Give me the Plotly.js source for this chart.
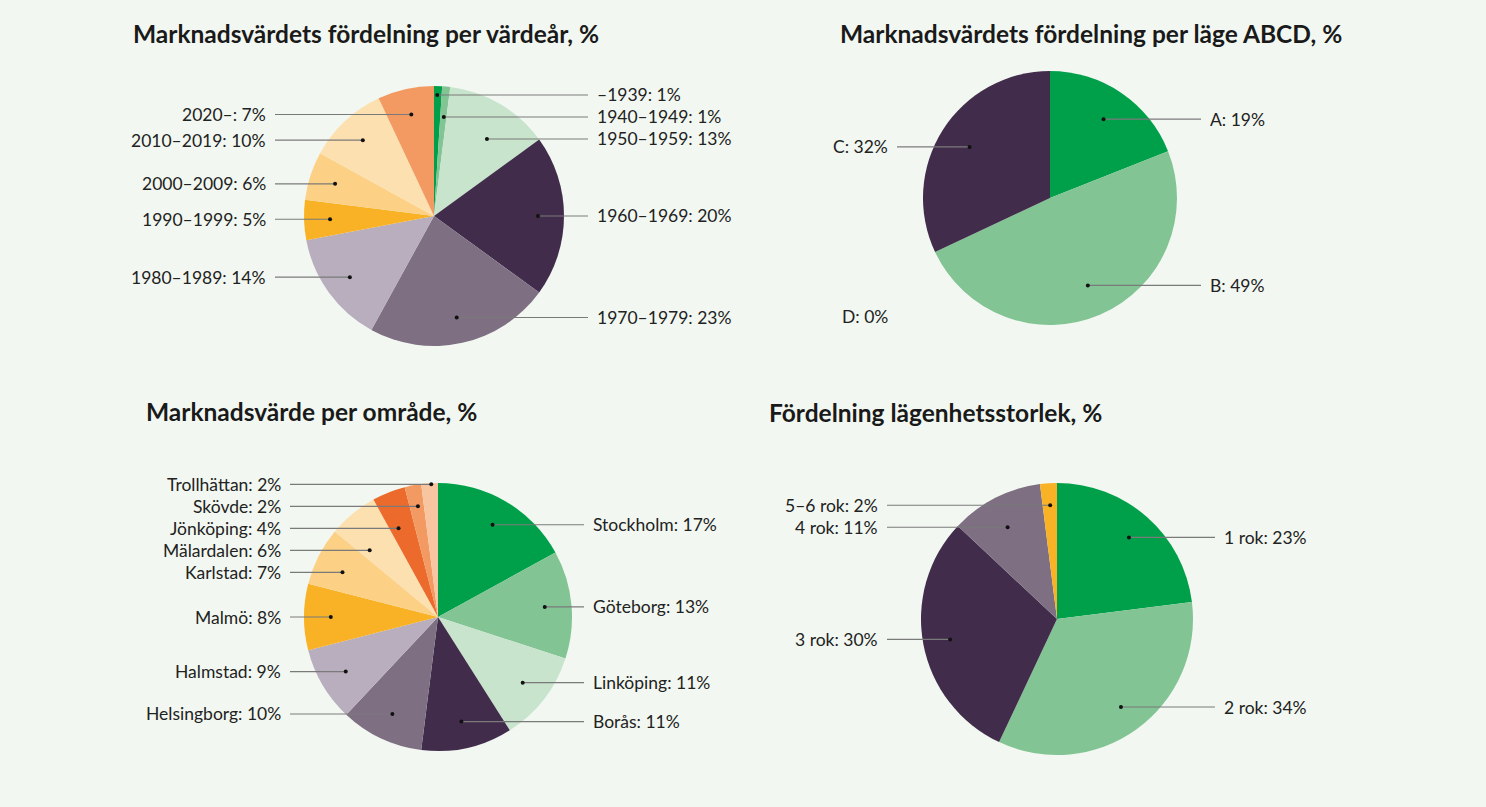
<!DOCTYPE html>
<html>
<head>
<meta charset="utf-8">
<script src="https://cdn.plot.ly/plotly-3.0.1.min.js"></script>
<style>
html,body{margin:0;padding:0;background:#f2f8f1;}
#chart{width:1486px;height:807px;}
</style>
</head>
<body>
<div id="chart"></div>
<script>
// ---------- Data ----------
const yearLabels = ['–1939', '1940–1949', '1950–1959', '1960–1969', '1970–1979', '1980–1989', '1990–1999', '2000–2009', '2010–2019', '2020–'];
const yearValues = [1, 1, 13, 20, 23, 14, 5, 6, 10, 7];

const abcdLabels = ['A', 'B', 'C', 'D'];
const abcdValues = [19, 49, 32, 0];

const areaLabels = ['Stockholm', 'Göteborg', 'Linköping', 'Borås', 'Helsingborg', 'Halmstad', 'Malmö', 'Karlstad', 'Mälardalen', 'Jönköping', 'Skövde', 'Trollhättan'];
const areaValues = [17, 13, 11, 11, 10, 9, 8, 7, 6, 4, 2, 2];

const sizeLabels = ['1 rok', '2 rok', '3 rok', '4 rok', '5–6 rok'];
const sizeValues = [23, 34, 30, 11, 2];

const chartTitles = [
  'Marknadsvärdets fördelning per värdeår, %',
  'Marknadsvärdets fördelning per läge ABCD, %',
  'Marknadsvärde per område, %',
  'Fördelning lägenhetsstorlek, %'
];

// ---------- Styles ----------
const C = {
  g1: '#00a04b', g2: '#82c494', g3: '#c8e4cc',
  p1: '#412d4b', p2: '#7e6f82', p3: '#b9aebd',
  o1: '#f9b225', o2: '#fdd185', o3: '#fde0b0', o4: '#f39a62', o5: '#ec6a2c', o6: '#f9c4a0'
};
const yearColors = [C.g1, C.g2, C.g3, C.p1, C.p2, C.p3, C.o1, C.o2, C.o3, C.o4];
const abcdColors = [C.g1, C.g2, C.p1, '#cccccc'];
const areaColors = [C.g1, C.g2, C.g3, C.p1, C.p2, C.p3, C.o1, C.o2, C.o3, C.o5, C.o4, C.o6];
const sizeColors = [C.g1, C.g2, C.p1, C.p2, C.o1];

const W = 1486, H = 807;
const FONT = 'Lato, "Open Sans", sans-serif';
const TXT = '#222222';

const charts = [
  {title: chartTitles[0], tx: 131, ty: 33, cx: 434, cy: 216, r: 130, labels: yearLabels, values: yearValues, colors: yearColors, f: 0.8, offR: 24, offL: 29},
  {title: chartTitles[1], tx: 838, ty: 33, cx: 1050, cy: 198, r: 127, labels: abcdLabels, values: abcdValues, colors: abcdColors, f: 0.75, offR: 24, offL: 26},
  {title: chartTitles[2], tx: 144, ty: 411, cx: 438, cy: 617, r: 134, labels: areaLabels, values: areaValues, colors: areaColors, f: 0.8, offR: 12, offL: 14},
  {title: chartTitles[3], tx: 767, ty: 413, cx: 1057, cy: 619, r: 136, labels: sizeLabels, values: sizeValues, colors: sizeColors, f: 0.8, offR: 22, offL: 34}
];

const px = x => x / W;
const py = y => 1 - y / H;

const traces = [];
const shapes = [];
const annotations = [];

function spread(list, gap) {
  list.sort((a, b) => a.py - b.py);
  let clusters = list.map(it => ({items: [it], center: it.py}));
  let changed = true;
  while (changed) {
    changed = false;
    for (let k = 0; k < clusters.length - 1; k++) {
      const a = clusters[k], b = clusters[k + 1];
      const aEnd = a.center + (a.items.length - 1) * gap / 2;
      const bStart = b.center - (b.items.length - 1) * gap / 2;
      if (bStart - aEnd < gap) {
        const items = a.items.concat(b.items);
        const center = items.reduce((s, it) => s + it.py, 0) / items.length;
        clusters.splice(k, 2, {items, center});
        changed = true;
        break;
      }
    }
  }
  clusters.forEach(c => {
    c.items.forEach((it, j) => {
      it.ly = c.center + (j - (c.items.length - 1) / 2) * gap;
    });
  });
}

charts.forEach(cfg => {
  traces.push({
    type: 'pie',
    labels: cfg.labels,
    values: cfg.values,
    sort: false,
    direction: 'clockwise',
    rotation: 0,
    textinfo: 'none',
    hoverinfo: 'none',
    showlegend: false,
    marker: {colors: cfg.colors, line: {width: 0}},
    domain: {
      x: [px(cfg.cx - cfg.r), px(cfg.cx + cfg.r)],
      y: [py(cfg.cy + cfg.r), py(cfg.cy - cfg.r)]
    }
  });

  annotations.push({
    xref: 'paper', yref: 'paper', x: px(cfg.tx), y: py(cfg.ty),
    xanchor: 'left', yanchor: 'middle', showarrow: false,
    text: '<b>' + cfg.title + '</b>',
    font: {family: FONT, size: 24.5, color: '#1a1a1a'}
  });

  const total = cfg.values.reduce((s, v) => s + v, 0);
  let cum = 0;
  const left = [], right = [], zeros = [];
  cfg.values.forEach((v, i) => {
    const mid = (cum + v / 2) / total * 2 * Math.PI;
    cum += v;
    const dx = Math.sin(mid) * cfg.r * cfg.f;
    const dy = -Math.cos(mid) * cfg.r * cfg.f;
    const item = {text: cfg.labels[i] + ': ' + v + '%', px: cfg.cx + dx, py: cfg.cy + dy};
    if (v === 0) zeros.push(item);
    else if (dx >= 0) right.push(item);
    else left.push(item);
  });
  spread(right, 22);
  spread(left, 22);

  const rightX = cfg.cx + cfg.r + cfg.offR;
  const leftX = cfg.cx - cfg.r - cfg.offL;

  [[right, rightX, 'left', 7], [left, leftX, 'right', -7]].forEach(([list, lx, anchor, gapX]) => {
    list.forEach(it => {
      shapes.push({
        type: 'line', xref: 'paper', yref: 'paper', layer: 'above',
        x0: px(it.px), y0: py(it.ly), x1: px(lx), y1: py(it.ly),
        line: {color: '#7a7a7a', width: 1.2}
      });
      shapes.push({
        type: 'circle', xref: 'paper', yref: 'paper', layer: 'above',
        x0: px(it.px - 2), x1: px(it.px + 2), y0: py(it.ly - 2), y1: py(it.ly + 2),
        fillcolor: '#111111', line: {width: 0}
      });
      annotations.push({
        xref: 'paper', yref: 'paper', x: px(lx + gapX), y: py(it.ly),
        xanchor: anchor, yanchor: 'middle', showarrow: false,
        text: it.text, font: {family: FONT, size: 17.5, color: TXT}
      });
    });
  });

  zeros.forEach(it => {
    annotations.push({
      xref: 'paper', yref: 'paper', x: px(leftX - 7), y: py(cfg.cy + cfg.r * 0.93),
      xanchor: 'right', yanchor: 'middle', showarrow: false,
      text: it.text, font: {family: FONT, size: 17.5, color: TXT}
    });
  });
});

Plotly.newPlot('chart', traces, {
  width: W, height: H,
  margin: {l: 0, r: 0, t: 0, b: 0},
  paper_bgcolor: '#f2f8f1',
  plot_bgcolor: '#f2f8f1',
  showlegend: false,
  shapes: shapes,
  annotations: annotations
}, {displayModeBar: false, staticPlot: true});
</script>
</body>
</html>
